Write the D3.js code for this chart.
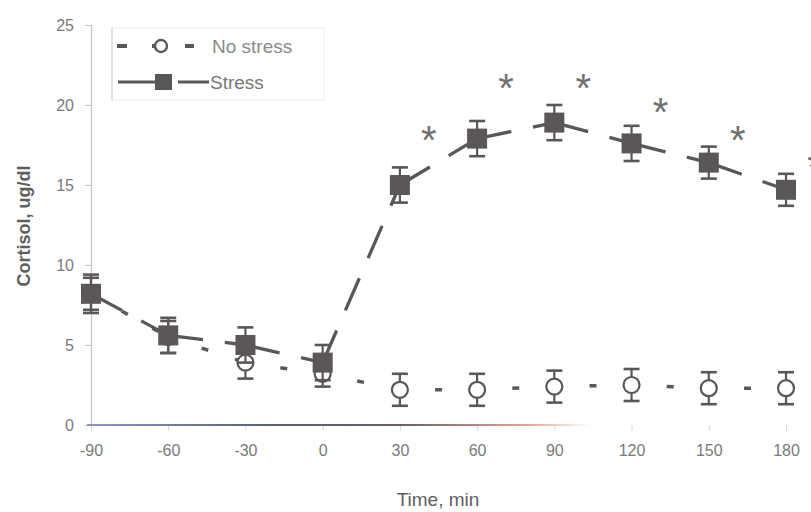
<!DOCTYPE html>
<html>
<head>
<meta charset="utf-8">
<script src="https://cdn.jsdelivr.net/npm/d3@7"></script>
<style>
  html, body { margin: 0; padding: 0; background: #fff; }
  svg { display: block; }
  text { font-family: "Liberation Sans", Arial, sans-serif; }
</style>
</head>
<body>
<svg id="chart" width="811" height="512"></svg>
<script>
// Plasma cortisol (mean ± SE) before and after stress, sampled every 30 min
const times = [-90, -60, -30, 0, 30, 60, 90, 120, 150, 180];
const stressMean = [8.2, 5.6, 5.0, 3.9, 15.0, 17.9, 18.9, 17.6, 16.4, 14.7];
const stressSE = [1.2, 1.1, 1.1, 1.1, 1.1, 1.1, 1.1, 1.1, 1.0, 1.0];
const noStressMean = [8.2, 5.5, 3.9, 3.2, 2.2, 2.2, 2.4, 2.5, 2.3, 2.3];
const noStressSE = [1.0, 1.0, 1.0, 0.8, 1.0, 1.0, 1.0, 1.0, 1.0, 1.0];
const yTicks = [0, 5, 10, 15, 20, 25];
const xTicks = [-90, -60, -30, 0, 30, 60, 90, 120, 150, 180];
// significance markers (time, level in ug/dl)
const sigTimes = [30, 60, 90, 120, 150, 180];
const sigLevels = [18.4, 21.6, 21.6, 20.1, 18.4, 16.7];
const seriesNames = ["No stress", "Stress"];

const svg = d3.select("#chart");
const markColor = "#5b5659";
const axisGray = "#c4c4c8";
const textGray = "#7a7a7a";

const x = d3.scaleLinear().domain([-90, 180]).range([91, 786]);
const y = d3.scaleLinear().domain([0, 25]).range([425, 25]);

// gradient for the horizontal axis line
const defs = svg.append("defs");
const grad = defs.append("linearGradient").attr("id", "xaxisGrad")
  .attr("gradientUnits", "userSpaceOnUse")
  .attr("x1", 91).attr("x2", 590).attr("y1", 0).attr("y2", 0);
grad.append("stop").attr("offset", "0%").attr("stop-color", "#8a96c4");
grad.append("stop").attr("offset", "35%").attr("stop-color", "#5c6078");
grad.append("stop").attr("offset", "62%").attr("stop-color", "#6a5e66");
grad.append("stop").attr("offset", "88%").attr("stop-color", "#e4a896");
grad.append("stop").attr("offset", "100%").attr("stop-color", "#ffffff");

const plainNum = d => String(d);

// y axis
const yAxis = d3.axisLeft(y).tickValues(yTicks).tickFormat(plainNum).tickSize(6).tickPadding(11);
const gy = svg.append("g").attr("transform", `translate(${x(-90)},0)`).call(yAxis);
gy.select(".domain").attr("stroke", axisGray).attr("stroke-width", 1.2);
gy.selectAll(".tick line").attr("stroke", axisGray);
gy.selectAll(".tick text").attr("fill", textGray).attr("font-size", 16);

// x axis
const xAxis = d3.axisBottom(x).tickValues(xTicks).tickFormat(plainNum).tickSize(6).tickPadding(14);
const gx = svg.append("g").attr("transform", `translate(0,${y(0)})`).call(xAxis);
gx.select(".domain").remove();
gx.selectAll(".tick line").attr("stroke", "#d8d8dc");
gx.selectAll(".tick text").attr("fill", textGray).attr("font-size", 16);
svg.append("line")
  .attr("x1", x(-90) - 4).attr("x2", 590)
  .attr("y1", y(0)).attr("y2", y(0))
  .attr("stroke", "url(#xaxisGrad)").attr("stroke-width", 1.8);

// axis titles
svg.append("text")
  .attr("x", 438).attr("y", 506)
  .attr("text-anchor", "middle")
  .attr("fill", "#5e5e5e").attr("font-size", 19)
  .text("Time, min");
svg.append("text")
  .attr("transform", `translate(30,226) rotate(-90)`)
  .attr("text-anchor", "middle")
  .attr("fill", "#5e5e5e").attr("font-size", 18).attr("font-weight", "bold")
  .text("Cortisol, ug/dl");

const noStress = times.map((t, i) => ({ t, v: noStressMean[i], se: noStressSE[i] }));
const stress = times.map((t, i) => ({ t, v: stressMean[i], se: stressSE[i] }));

// connecting lines: one line per interval so the dash pattern restarts at each point
const segments = data => d3.pairs(data);

const gNo = svg.append("g");
gNo.selectAll("line.seg").data(segments(noStress)).join("line")
  .attr("x1", d => x(d[0].t)).attr("y1", d => y(d[0].v))
  .attr("x2", d => x(d[1].t)).attr("y2", d => y(d[1].v))
  .attr("stroke", markColor).attr("stroke-width", 3.5)
  .attr("stroke-dasharray", "7 28.2");

function errorBars(g, data) {
  const eb = g.selectAll("g.eb").data(data).join("g");
  eb.append("line")
    .attr("x1", d => x(d.t)).attr("x2", d => x(d.t))
    .attr("y1", d => y(d.v + d.se)).attr("y2", d => y(d.v - d.se))
    .attr("stroke", markColor).attr("stroke-width", 2.2);
  eb.append("line")
    .attr("x1", d => x(d.t) - 8).attr("x2", d => x(d.t) + 8)
    .attr("y1", d => y(d.v + d.se)).attr("y2", d => y(d.v + d.se))
    .attr("stroke", markColor).attr("stroke-width", 2.6);
  eb.append("line")
    .attr("x1", d => x(d.t) - 8).attr("x2", d => x(d.t) + 8)
    .attr("y1", d => y(d.v - d.se)).attr("y2", d => y(d.v - d.se))
    .attr("stroke", markColor).attr("stroke-width", 2.6);
}
errorBars(gNo, noStress);
gNo.selectAll("circle").data(noStress).join("circle")
  .attr("cx", d => x(d.t)).attr("cy", d => y(d.v)).attr("r", 8)
  .attr("fill", "#fff").attr("stroke", markColor).attr("stroke-width", 2.2);

const gS = svg.append("g");
gS.selectAll("line.seg").data(segments(stress)).join("line")
  .attr("x1", d => x(d[0].t)).attr("y1", d => y(d[0].v))
  .attr("x2", d => x(d[1].t)).attr("y2", d => y(d[1].v))
  .attr("stroke", markColor).attr("stroke-width", 3.3)
  .attr("stroke-dasharray", "35 22");
errorBars(gS, stress);
gS.selectAll("rect").data(stress).join("rect")
  .attr("x", d => x(d.t) - 10).attr("y", d => y(d.v) - 10)
  .attr("width", 20).attr("height", 20)
  .attr("fill", markColor);

// significance asterisks
svg.selectAll("text.sig").data(sigTimes.map((t, i) => ({ t, v: sigLevels[i] })))
  .join("text")
  .attr("class", "sig")
  .attr("x", d => x(d.t) + 29).attr("y", d => y(d.v) + 23)
  .attr("text-anchor", "middle")
  .attr("fill", "#707070").attr("font-size", 40)
  .text("*");

// legend
const lg = svg.append("g");
lg.append("rect").attr("x", 112).attr("y", 28).attr("width", 212).attr("height", 72)
  .attr("fill", "#fff").attr("stroke", "#ececec").attr("stroke-width", 1);
lg.append("line").attr("x1", 112).attr("x2", 112).attr("y1", 28).attr("y2", 100)
  .attr("stroke", "#cfcfcf");
// no stress row
lg.append("line").attr("x1", 117).attr("x2", 127).attr("y1", 46).attr("y2", 46)
  .attr("stroke", markColor).attr("stroke-width", 4);
lg.append("line").attr("x1", 152).attr("x2", 158).attr("y1", 46).attr("y2", 46)
  .attr("stroke", markColor).attr("stroke-width", 4);
lg.append("circle").attr("cx", 161).attr("cy", 46).attr("r", 6)
  .attr("fill", "#fff").attr("stroke", markColor).attr("stroke-width", 2.4);
lg.append("line").attr("x1", 185).attr("x2", 194).attr("y1", 46).attr("y2", 46)
  .attr("stroke", markColor).attr("stroke-width", 4);
lg.append("text").attr("x", 212).attr("y", 53).attr("fill", "#8a8a8a")
  .attr("font-size", 19).text(seriesNames[0]);
// stress row
lg.append("line").attr("x1", 118).attr("x2", 160).attr("y1", 82).attr("y2", 82)
  .attr("stroke", markColor).attr("stroke-width", 3);
lg.append("rect").attr("x", 155).attr("y", 74).attr("width", 17).attr("height", 16)
  .attr("fill", markColor);
lg.append("line").attr("x1", 178).attr("x2", 209).attr("y1", 82).attr("y2", 82)
  .attr("stroke", markColor).attr("stroke-width", 3);
lg.append("text").attr("x", 210).attr("y", 89).attr("fill", "#777")
  .attr("font-size", 19).text(seriesNames[1]);
</script>
</body>
</html>
